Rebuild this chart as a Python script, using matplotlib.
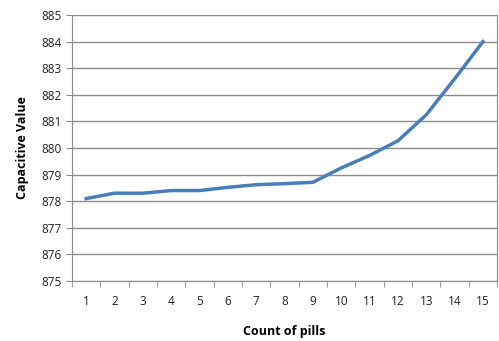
import numpy as np
import matplotlib.pyplot as plt

pills = list(range(1, 16))
capacitive = [878.1, 878.3, 878.3, 878.4, 878.4, 878.52, 878.62, 878.66, 878.71,
              879.25, 879.72, 880.27, 881.25, 882.6, 884.0]
y_ticks = list(range(875, 886))

plt.rcParams['font.family'] = ['Open Sans', 'DejaVu Sans']

fig = plt.figure(figsize=(4.99, 3.41), dpi=100)
ax = fig.add_axes([0.1443, 0.176, 0.852, 0.780])

# grid lines
for v in y_ticks:
    ax.axhline(v, color='#8c8c8c', linewidth=1.0, zorder=1)

ax.plot(pills, capacitive, color='#4a7ebb', linewidth=2.5, zorder=3)

ax.set_xlim(0.5, 15.5)
ax.set_ylim(875, 885)
ax.set_yticks(y_ticks)
ax.set_xticks(pills)
ax.set_xticks(np.arange(0.5, 16, 1), minor=True)
ax.tick_params(axis='x', which='major', length=0, pad=10, labelsize=8.5, colors='#222222')
ax.tick_params(axis='x', which='minor', length=4, color='#8c8c8c', direction='out')
ax.tick_params(axis='y', length=4, color='#8c8c8c', direction='out', labelsize=8.5, colors='#222222')

for s in ['left', 'bottom', 'right']:
    ax.spines[s].set_color('#8c8c8c')
ax.spines['top'].set_visible(False)

ax.set_ylabel('Capacitive Value', fontsize=9, fontweight='bold', labelpad=9)
ax.set_xlabel('Count of pills', fontsize=9, fontweight='bold', labelpad=12)

fig.savefig('out.png', dpi=100)
